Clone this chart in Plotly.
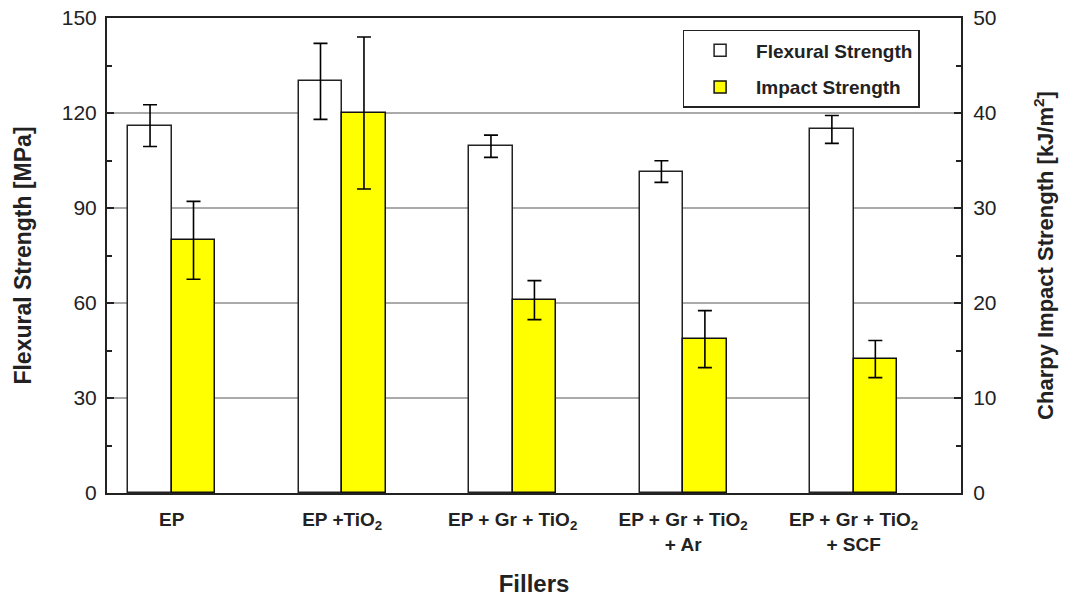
import plotly.graph_objects as go

categories = ["EP", "EP +TiO<sub>2</sub>", "EP + Gr + TiO<sub>2</sub>",
              "EP + Gr + TiO<sub>2</sub><br>+ Ar", "EP + Gr + TiO<sub>2</sub><br>+ SCF"]
flexural = [116, 130, 109.5, 101.5, 114.8]
flexural_err = [6.6, 12, 3.5, 3.4, 4.4]
impact = [26.6, 40, 20.3, 16.2, 14.1]
impact_err = [4.1, 8, 2.05, 3.0, 1.95]

FONT = "Liberation Sans, Arial, Helvetica, sans-serif"
BW = 0.255

fig = go.Figure()
fig.add_trace(go.Bar(
    x=categories, y=flexural, name="Flexural Strength", legendgroup="a",
    width=BW, offset=-BW,
    marker=dict(color="white", line=dict(color="#222", width=1.5)),
    error_y=dict(type="data", array=flexural_err, color="black", thickness=1.6, width=7),
    yaxis="y"))
fig.add_trace(go.Bar(
    x=categories, y=impact, name="Impact Strength", legendgroup="b",
    width=BW, offset=0,
    marker=dict(color="#FFFF00", line=dict(color="#111", width=1.5)),
    error_y=dict(type="data", array=impact_err, color="black", thickness=1.6, width=7),
    yaxis="y2"))

fig.add_shape(type="line", xref="paper", yref="y", x0=0, x1=1, y0=120, y1=120,
              line=dict(color="#444", width=1.5), layer="below")

fig.update_layout(
    width=1071, height=598,
    margin=dict(l=107, r=110, t=18, b=105, autoexpand=False),
    paper_bgcolor="white", plot_bgcolor="white",
    font=dict(family=FONT, color="black"),
    bargap=0, showlegend=True,
    legend=dict(x=0.674, y=0.975, xanchor="left", yanchor="top",
                bordercolor="#222", borderwidth=1.5, bgcolor="white",
                font=dict(size=19, family=FONT, color="#222", weight="bold"),
                itemwidth=62, tracegroupgap=9, traceorder="grouped"),
    xaxis=dict(
        type="category", range=[-0.38, 4.63], automargin=False,
        showline=True, linecolor="#222", linewidth=2, mirror=True,
        ticks="", showgrid=False, ticklabelstandoff=8,
        tickfont=dict(size=19, family=FONT, weight="bold", color="#222"),
        title=dict(text="<b>Fillers</b>", font=dict(size=24, family=FONT, color="#222"), standoff=22),
    ),
    yaxis=dict(
        range=[0, 150], tick0=0, dtick=30, automargin=False,
        showline=True, linecolor="#222", linewidth=2,
        ticks="inside", ticklen=7, tickcolor="#222", tickwidth=1.5,
        minor=dict(dtick=15, ticks="inside", ticklen=5, tickcolor="#222", showgrid=False),
        showgrid=True, gridcolor="#aaaaaa", gridwidth=2,
        zeroline=False, ticklabelstandoff=4,
        tickfont=dict(size=21, family=FONT, color="#222"),
        title=dict(text="<b>Flexural Strength [MPa]</b>", font=dict(size=23, family=FONT, color="#222"), standoff=24),
    ),
    yaxis2=dict(
        range=[0, 50], tick0=0, dtick=10, overlaying="y", side="right", automargin=False,
        showline=True, linecolor="#222", linewidth=2,
        ticks="inside", ticklen=7, tickcolor="#222", tickwidth=1.5,
        minor=dict(dtick=5, ticks="inside", ticklen=5, tickcolor="#222", showgrid=False),
        showgrid=False, zeroline=False, ticklabelstandoff=6,
        tickfont=dict(size=21, family=FONT, color="#222"),
        title=dict(text="<b>Charpy Impact Strength [kJ/m<sup>2</sup>]</b>", font=dict(size=22, family=FONT, color="#222"), standoff=42),
    ),
)

fig.write_html("out.html")
